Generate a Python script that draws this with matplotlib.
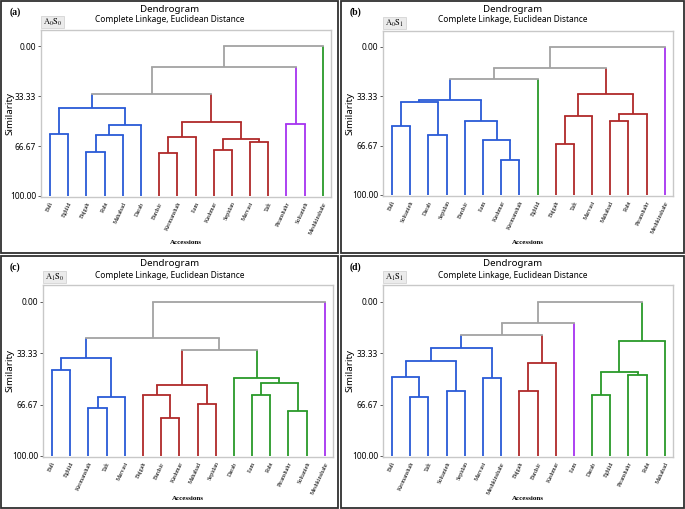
import numpy as np
import matplotlib
matplotlib.use("Agg")
import matplotlib.pyplot as plt
from matplotlib.patches import Rectangle

plt.rcParams["mathtext.fontset"] = "stix"

# ---------------------------------------------------------
# DATA
# leaves in plotted order, merges as (child_i, child_j, similarity)
# ids: 0..15 leaves, 16.. merges (scipy-style)
# ---------------------------------------------------------
leaves_a = ["Bafi", "Eghlid", "Bajgah", "Rabt", "Mahabad", "Darab", "Bardsir", "Kermanshah",
            "Ilam", "Kashmar", "Sepidan", "Marvast", "Taft", "Piranshahr", "Soltanieh", "Meshkinshahr"]
merges_a = [(0, 1, 58.9), (2, 3, 70.4), (17, 4, 59.3), (18, 5, 52.7), (16, 19, 41.1),
            (6, 7, 71.1), (21, 8, 60.7), (9, 10, 69.6), (11, 12, 64.2), (23, 24, 62.0),
            (22, 25, 50.9), (20, 26, 31.6), (13, 14, 52.2), (27, 28, 14.2), (29, 15, 0.2)]
groups_a = {"blue": leaves_a[0:6], "red": leaves_a[6:13], "purple": leaves_a[13:15],
            "green": leaves_a[15:16]}

leaves_b = ["Bafi", "Soltanieh", "Darab", "Sepidan", "Bardsir", "Ilam", "Kashmar", "Kermanshah",
            "Eghlid", "Bajgah", "Taft", "Marvast", "Mahabad", "Rabt", "Piranshahr", "Meshkinshahr"]
merges_b = [(0, 1, 53.7), (2, 3, 59.3), (16, 17, 37.3), (6, 7, 76.6), (5, 19, 62.7),
            (4, 20, 49.7), (18, 21, 35.7), (22, 8, 21.6), (9, 10, 65.6), (24, 11, 46.7),
            (12, 13, 50.1), (26, 14, 45.2), (25, 27, 31.7), (23, 28, 14.4), (29, 15, 0.2)]
groups_b = {"blue": leaves_b[0:8], "green": leaves_b[8:9], "red": leaves_b[9:15],
            "purple": leaves_b[15:16]}

leaves_c = ["Bafi", "Eghlid", "Kermanshah", "Taft", "Marvast", "Bajgah", "Bardsir", "Kashmar",
            "Mahabad", "Sepidan", "Darab", "Ilam", "Rabt", "Piranshahr", "Soltanieh", "Meshkinshahr"]
merges_c = [(0, 1, 44.2), (2, 3, 69.0), (17, 4, 62.1), (16, 18, 36.8), (6, 7, 75.5),
            (5, 20, 60.2), (8, 9, 66.5), (21, 22, 54.1), (11, 12, 60.8), (13, 14, 71.2),
            (24, 25, 53.0), (10, 26, 49.8), (23, 27, 31.6), (19, 28, 23.8), (29, 15, 0.2)]
groups_c = {"blue": leaves_c[0:5], "red": leaves_c[5:10], "green": leaves_c[10:15],
            "purple": leaves_c[15:16]}

leaves_d = ["Bafi", "Kermanshah", "Taft", "Soltanieh", "Sepidan", "Marvast", "Meshkinshahr", "Bajgah",
            "Bardsir", "Kashmar", "Ilam", "Darab", "Eghlid", "Piranshahr", "Rabt", "Mahabad"]
merges_d = [(1, 2, 62.1), (0, 16, 49.1), (3, 4, 58.0), (17, 18, 38.7), (5, 6, 49.6),
            (19, 20, 30.3), (7, 8, 58.0), (22, 9, 39.8), (21, 23, 21.6), (24, 10, 13.9),
            (11, 12, 60.6), (13, 14, 47.8), (26, 27, 45.5), (28, 15, 25.3), (25, 29, 0.0)]
groups_d = {"blue": leaves_d[0:7], "red": leaves_d[7:10], "purple": leaves_d[10:11],
            "green": leaves_d[11:16]}

panel_letters = ["(a)", "(b)", "(c)", "(d)"]
panel_tags = [r"$\mathrm{A_0S_0}$", r"$\mathrm{A_0S_1}$", r"$\mathrm{A_1S_0}$", r"$\mathrm{A_1S_1}$"]
sim_ticks = [0.0, 33.33, 66.67, 100.0]

COLORS = {"blue": "#2a5bd7", "red": "#b02a2a", "purple": "#a633f0",
          "green": "#2a9a2a", "gray": "#a3a3a3"}

# ---------------------------------------------------------
# LAYOUT (pixels)
# ---------------------------------------------------------
W, H = 685, 509
fig = plt.figure(figsize=(W / 100, H / 100), dpi=100)


def fx(x):
    return x / W


def fy(y):
    return 1 - y / H


# panel box (l, t, r, b) and axes box (l, t, r, b)
panels = [
    ((1, 1, 338, 253), (41, 30, 331, 197)),
    ((341, 1, 684, 253), (383, 31, 673, 196)),
    ((1, 256, 338, 508), (43, 285, 333, 457)),
    ((341, 256, 684, 508), (383, 285, 673, 457)),
]

datasets = [(leaves_a, merges_a, groups_a), (leaves_b, merges_b, groups_b),
            (leaves_c, merges_c, groups_c), (leaves_d, merges_d, groups_d)]


def draw_dendrogram(ax, leaves, merges, groups):
    n = len(leaves)
    leaf_group = {}
    for g, names in groups.items():
        for name in names:
            leaf_group[name] = g

    xpos = {i: float(i) for i in range(n)}
    ypos = {i: 100.0 for i in range(n)}
    color = {i: COLORS[leaf_group[leaves[i]]] for i in range(n)}
    members = {i: {leaf_group[leaves[i]]} for i in range(n)}

    for k, (a, b, h) in enumerate(merges):
        node = n + k
        members[node] = members[a] | members[b]
        if len(members[node]) == 1:
            c = COLORS[next(iter(members[node]))]
        else:
            c = COLORS["gray"]
        color[node] = c
        # legs in child colour, bar in parent colour
        ax.plot([xpos[a], xpos[a]], [ypos[a], h], color=color[a], lw=1.3, solid_capstyle="butt")
        ax.plot([xpos[b], xpos[b]], [ypos[b], h], color=color[b], lw=1.3, solid_capstyle="butt")
        ax.plot([xpos[a], xpos[b]], [h, h], color=c, lw=1.3, solid_capstyle="projecting")
        xpos[node] = (xpos[a] + xpos[b]) / 2
        ypos[node] = h


for i, ((pbox, abox), (leaves, merges, groups)) in enumerate(zip(panels, datasets)):
    pl, pt, pr, pb = pbox
    al, at, ar, ab = abox

    # outer panel frame
    fig.patches.append(Rectangle((fx(pl), fy(pb)), fx(pr - pl), (pb - pt) / H,
                                 transform=fig.transFigure, fill=False,
                                 edgecolor="#303030", lw=1.3))

    ax = fig.add_axes([fx(al), fy(ab), fx(ar - al), (ab - at) / H])
    draw_dendrogram(ax, leaves, merges, groups)

    ax.set_xlim(-0.5, len(leaves) - 0.55)
    ax.set_ylim(100.7, -10.8)
    ax.set_yticks(sim_ticks)
    ax.set_yticklabels([f"{v:.2f}" for v in sim_ticks], fontsize=6, family="Noto Sans")
    ax.tick_params(axis="y", length=2, width=0.6, pad=1.5, color="#404040")
    ax.set_xticks(range(len(leaves)))
    ax.set_xticklabels(leaves, rotation=65, ha="right", rotation_mode="anchor",
                       fontsize=4.4, family="Liberation Serif")
    ax.tick_params(axis="x", length=0, pad=3)
    for s in ax.spines.values():
        s.set_color("#c8c8c8")
        s.set_linewidth(1.0)

    cx = (pl + pr) / 2
    fig.text(fx(cx), fy(pt + 8), "Dendrogram", ha="center", va="center",
             fontsize=7, family="Noto Sans")
    fig.text(fx(cx), fy(pt + 19), "Complete Linkage, Euclidean Distance", ha="center",
             va="center", fontsize=6, family="Noto Sans")
    fig.text(fx(pl + 14), fy(pt + 11), panel_letters[i], ha="center", va="center",
             fontsize=7, fontweight="bold", family="Liberation Serif")

    # small condition tab above the axes
    fig.patches.append(Rectangle((fx(al), fy(at - 2)), fx(23), 12 / H,
                                 transform=fig.transFigure, facecolor="#ebebeb",
                                 edgecolor="#d4d4d4", lw=0.6))
    fig.text(fx(al + 11.5), fy(at - 8), panel_tags[i], ha="center", va="center",
             fontsize=6)

    fig.text(fx(pl + 9), fy((at + ab) / 2), "Similarity", rotation=90, ha="center",
             va="center", fontsize=7, family="Noto Sans")
    fig.text(fx((al + ar) / 2), fy(pt + 242), "Accessions", ha="center", va="center",
             fontsize=5, fontweight="bold", family="Liberation Serif")

fig.savefig("out.png", dpi=100)
